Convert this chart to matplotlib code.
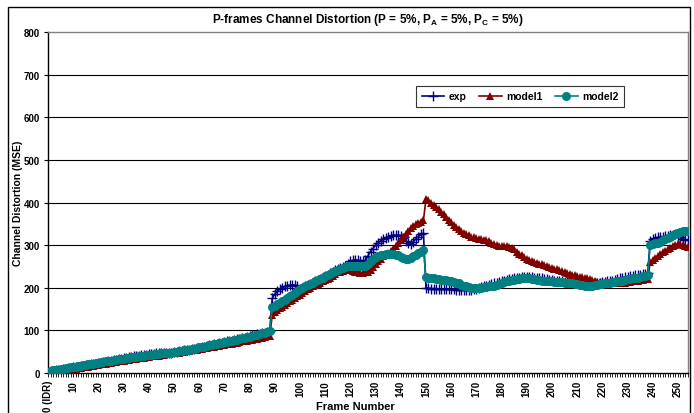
import numpy as np
import matplotlib
matplotlib.use('Agg')
import matplotlib.pyplot as plt
import matplotlib.ticker as ticker
from matplotlib.patches import Rectangle

plt.rcParams['font.family'] = ['Liberation Sans', 'DejaVu Sans']
plt.rcParams['font.weight'] = 'bold'
plt.rcParams['mathtext.fontset'] = 'custom'
plt.rcParams['mathtext.bf'] = 'Liberation Sans:bold'
plt.rcParams['mathtext.rm'] = 'Liberation Sans:bold'

# Frame numbers 0..254
frames = np.arange(255)

exp_vals = [
    2, 4, 5, 6, 7, 8, 9, 10, 11, 12,
    13, 14, 15, 16, 17, 18, 19, 20, 21, 22,
    23, 24, 25, 26, 27, 28, 30, 31, 32, 34,
    35, 36, 37, 38, 39, 40, 41, 42, 42, 43,
    44, 45, 45, 46, 47, 47, 46, 46, 47, 48,
    49, 50, 51, 52, 53, 54, 55, 56, 57, 58,
    59, 61, 62, 63, 65, 66, 67, 69, 70, 71,
    72, 74, 75, 76, 78, 79, 80, 82, 83, 85,
    86, 88, 89, 91, 92, 94, 95, 97, 99, 175,
    185, 192, 197, 200, 203, 205, 206, 207, 206, 204,
    198, 200, 203, 206, 209, 212, 215, 218, 221, 224,
    227, 231, 235, 238, 241, 244, 247, 249, 252, 256,
    262, 264, 265, 264, 263, 262, 264, 275, 285, 292,
    300, 305, 310, 314, 317, 320, 322, 323, 323, 324,
    322, 316, 310, 305, 302, 308, 315, 320, 325, 328,
    200, 199, 198, 198, 198, 197, 197, 197, 197, 196,
    196, 196, 195, 195, 195, 194, 194, 194, 195, 196,
    197, 199, 201, 203, 204, 206, 208, 210, 212, 214,
    215, 217, 219, 220, 221, 222, 223, 224, 225, 225,
    226, 226, 225, 224, 223, 222, 222, 221, 220, 219,
    218, 217, 216, 215, 215, 214, 214, 213, 213, 213,
    212, 212, 211, 211, 210, 210, 210, 210, 211, 212,
    213, 214, 215, 216, 217, 218, 220, 222, 224, 225,
    226, 227, 228, 229, 230, 231, 232, 233, 235, 310,
    314, 316, 318, 319, 320, 321, 322, 323, 324, 325,
    322, 318, 315, 312, 312,
]

# model1
model1_vals = [
    0, 1, 2, 3, 4, 5, 6, 7, 8, 8,
    9, 10, 11, 12, 13, 14, 15, 16, 17, 18,
    19, 20, 21, 22, 23, 24, 25, 26, 27, 28,
    29, 30, 31, 32, 33, 34, 35, 36, 36, 37,
    38, 39, 40, 40, 41, 42, 43, 44, 45, 46,
    46, 47, 48, 49, 50, 51, 52, 53, 54, 55,
    56, 57, 58, 59, 60, 61, 62, 63, 64, 65,
    66, 67, 68, 69, 70, 71, 72, 74, 75, 76,
    77, 78, 79, 80, 81, 83, 84, 86, 87, 135,
    142, 148, 152, 156, 160, 164, 168, 172, 176, 180,
    184, 188, 192, 196, 200, 203, 206, 209, 212, 215,
    218, 221, 224, 228, 232, 236, 238, 240, 242, 243,
    242, 240, 238, 236, 235, 235, 236, 238, 242, 248,
    255, 262, 268, 274, 278, 282, 287, 292, 298, 304,
    312, 320, 327, 334, 340, 345, 349, 352, 355, 358,
    408, 405, 400, 395, 390, 384, 378, 372, 366, 360,
    354, 348, 342, 337, 333, 329, 326, 323, 320, 318,
    316, 315, 314, 313, 311, 309, 306, 303, 300, 298,
    298, 298, 297, 296, 294, 290, 285, 280, 276, 272,
    268, 265, 262, 260, 258, 256, 255, 253, 251, 249,
    247, 245, 243, 241, 239, 237, 235, 233, 231, 229,
    227, 226, 225, 224, 222, 220, 218, 216, 214, 213,
    212, 211, 210, 210, 210, 210, 211, 211, 212, 212,
    213, 214, 215, 216, 217, 218, 219, 220, 221, 260,
    266, 270, 275, 279, 283, 287, 290, 294, 298, 301,
    303, 302, 300, 298, 296,
]

# model2
model2_vals = [
    3, 5, 6, 7, 8, 9, 10, 11, 12, 13,
    14, 15, 16, 17, 18, 19, 20, 21, 22, 23,
    24, 25, 26, 27, 28, 29, 30, 31, 32, 33,
    34, 35, 36, 37, 37, 38, 39, 40, 41, 42,
    42, 43, 44, 45, 45, 46, 46, 47, 48, 48,
    49, 50, 51, 52, 53, 54, 55, 56, 57, 58,
    60, 61, 62, 64, 65, 66, 68, 69, 70, 71,
    72, 73, 74, 76, 77, 78, 80, 81, 82, 84,
    85, 87, 88, 90, 91, 93, 94, 96, 98, 155,
    158, 162, 165, 169, 172, 176, 180, 184, 188, 192,
    196, 200, 203, 206, 209, 212, 215, 218, 221, 224,
    227, 230, 233, 236, 239, 242, 244, 246, 248, 250,
    251, 252, 252, 251, 250, 250, 252, 256, 262, 268,
    272, 275, 277, 278, 279, 280, 280, 279, 278, 276,
    273, 270, 268, 267, 269, 274, 278, 282, 285, 288,
    225, 224, 223, 222, 221, 220, 219, 218, 218, 217,
    216, 214, 212, 210, 207, 205, 203, 201, 200, 200,
    199, 199, 200, 201, 202, 203, 204, 205, 207, 209,
    211, 213, 215, 217, 218, 219, 220, 221, 222, 222,
    222, 222, 221, 220, 219, 218, 217, 216, 215, 215,
    215, 214, 214, 213, 213, 212, 212, 211, 210, 209,
    208, 207, 206, 205, 204, 204, 205, 206, 207, 208,
    209, 210, 211, 212, 213, 214, 215, 216, 217, 219,
    220, 221, 222, 223, 224, 226, 227, 228, 230, 300,
    302, 304, 306, 308, 311, 314, 317, 320, 323, 326,
    328, 330, 332, 334, 334,
]

y_ticks = [0, 100, 200, 300, 400, 500, 600, 700, 800]
x_ticks = list(range(0, 251, 10))
x_labels = ['0 (IDR)'] + [str(v) for v in x_ticks[1:]]

W, H = 694, 414
fig = plt.figure(figsize=(W / 100, H / 100), dpi=100)
ax = fig.add_axes([48 / W, 1 - 374 / H, 640 / W, 341 / H])

# outer chart border
fig.patches.append(Rectangle((8 / W, -0.05), 682 / W, 1.05 - 8 / H, transform=fig.transFigure,
                             fill=False, edgecolor='black', linewidth=1.0))

ax.plot(frames, exp_vals, color='#000080', marker='+', markersize=7, markeredgewidth=1.0,
        linewidth=1.2, label='exp', zorder=3)
ax.plot(frames, model1_vals, color='#800000', marker='^', markersize=6, markeredgewidth=0,
        linewidth=1.2, label='model1', zorder=4)
ax.plot(frames, model2_vals, color='#008080', marker='o', markersize=6.5, markeredgewidth=0,
        linewidth=1.2, label='model2', zorder=5)

ax.set_xlim(0, 254)
ax.set_ylim(0, 800)
ax.set_yticks(y_ticks)
ax.set_yticklabels([str(v) for v in y_ticks], fontsize=7, fontweight='bold')
ax.set_xticks(x_ticks)
ax.set_xticklabels(x_labels, rotation=90, fontsize=7, fontweight='bold')
ax.xaxis.set_minor_locator(ticker.MultipleLocator(1))
ax.tick_params(axis='x', which='both', length=3, width=0.6, direction='out', pad=2)
ax.tick_params(axis='y', length=3, width=0.8, direction='out', pad=3)

for v in y_ticks[1:-1]:
    ax.axhline(v, color='black', linewidth=0.8, zorder=1)

ax.spines['left'].set_color('black')
ax.spines['bottom'].set_color('black')
ax.spines['top'].set_color('#808080')
ax.spines['right'].set_color('#808080')
for s in ax.spines.values():
    s.set_linewidth(1.0)

fig.text(368 / W, 1 - 20 / H,
         r'P-frames Channel Distortion (P = 5%, P$_\mathbf{A}$ = 5%, P$_\mathbf{C}$ = 5%)',
         ha='center', va='center', fontsize=8.5, fontweight='bold')
fig.text(18 / W, 1 - 203 / H, 'Channel Distortion (MSE)', rotation=90,
         ha='center', va='center', fontsize=7.5, fontweight='bold')
fig.text(355 / W, 1 - 407 / H, 'Frame Number', ha='center', va='center',
         fontsize=8, fontweight='bold')

leg = fig.legend(loc='center', bbox_to_anchor=(520 / W, 1 - 97.5 / H), ncol=3,
                 fontsize=7.5, frameon=True, fancybox=False, edgecolor='black',
                 handlelength=2.2, columnspacing=1.2, handletextpad=0.4,
                 borderpad=0.5)
leg.get_frame().set_linewidth(0.8)
for t in leg.get_texts():
    t.set_fontweight('bold')

fig.savefig('out.png', dpi=100)
